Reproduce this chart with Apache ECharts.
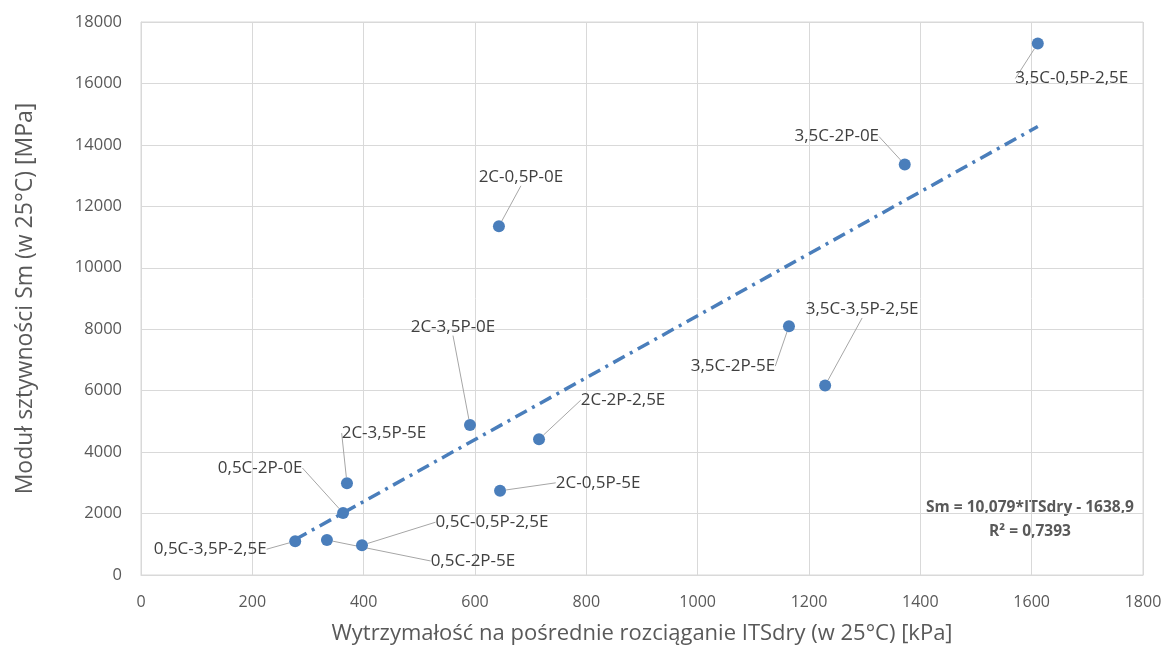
<!DOCTYPE html>
<html>
<head>
<meta charset="utf-8">
<script src="https://cdn.jsdelivr.net/npm/echarts@6/dist/echarts.min.js"></script>
<style>
  html, body { margin: 0; padding: 0; background: #fff; }
  #chart { width: 1167px; height: 650px; }
</style>
</head>
<body>
<div id="chart"></div>
<script>
// Mix designations (cement-polymer-emulsion contents)
const mixes = [
  '3,5C-0,5P-2,5E', '3,5C-2P-0E', '2C-0,5P-0E', '2C-3,5P-0E',
  '3,5C-3,5P-2,5E', '3,5C-2P-5E', '2C-2P-2,5E', '2C-0,5P-5E',
  '2C-3,5P-5E', '0,5C-2P-0E', '0,5C-3,5P-2,5E', '0,5C-2P-5E',
  '0,5C-0,5P-2,5E'
];
// Indirect tensile strength ITSdry [kPa]
const itsDry = [1611, 1372, 643, 591, 1229, 1164, 715, 645, 370, 363, 277, 334, 397];
// Stiffness modulus Sm [MPa]
const stiffness = [17300, 13360, 11350, 4880, 6170, 8100, 4420, 2740, 2990, 2020, 1100, 1140, 970];

// Linear regression from the chart
const slope = 10.079;
const intercept = -1638.9;
const rSquared = '0,7393';

const xTicks = { min: 0, max: 1800, interval: 200 };
const yTicks = { min: 0, max: 18000, interval: 2000 };

// Callout offsets from each point (px)
const labelOffsets = [
  [34, 35], [-68, -28], [22, -49], [-17, -98],
  [37, -76], [-56, 40], [84, -39], [98, -8],
  [37, -50], [-83, -45], [-85, 8], [146, 21],
  [130, -23]
];

const points = itsDry.map((x, i) => ({ value: [x, stiffness[i]], name: mixes[i] }));
const xLo = Math.min(...itsDry), xHi = Math.max(...itsDry);
const trend = [[xLo, slope * xLo + intercept], [xHi, slope * xHi + intercept]];

const blue = '#4a7ebb';
const gridColor = '#d9d9d9';
const textGray = '#595959';
const font = 'Open Sans, sans-serif';

const chart = echarts.init(document.getElementById('chart'));
chart.setOption({
  animation: false,
  grid: { left: 141, right: 24, top: 22, bottom: 73, show: true, borderColor: gridColor, borderWidth: 1 },
  xAxis: {
    type: 'value', min: xTicks.min, max: xTicks.max, interval: xTicks.interval,
    name: 'Wytrzymałość na pośrednie rozciąganie ITSdry (w 25°C) [kPa]',
    nameLocation: 'middle', nameGap: 48,
    nameTextStyle: { fontSize: 22, color: textGray, fontFamily: 'Liberation Sans Narrow, Open Sans, sans-serif' },
    axisLine: { show: true, lineStyle: { color: gridColor } },
    axisTick: { show: false },
    axisLabel: { fontSize: 16, color: textGray, margin: 19, fontFamily: font, formatter: v => String(v) },
    splitLine: { lineStyle: { color: gridColor, width: 1 } }
  },
  yAxis: {
    type: 'value', min: yTicks.min, max: yTicks.max, interval: yTicks.interval,
    name: 'Moduł sztywności Sm (w 25°C) [MPa]',
    nameLocation: 'middle', nameGap: 104,
    nameTextStyle: { fontSize: 23, color: textGray, fontFamily: font },
    axisLine: { show: true, lineStyle: { color: gridColor } },
    axisTick: { show: false },
    axisLabel: { fontSize: 16.5, color: textGray, margin: 19, fontFamily: font, formatter: v => String(v) },
    splitLine: { lineStyle: { color: gridColor, width: 1 } }
  },
  series: [
    {
      type: 'line',
      data: trend,
      symbol: 'none',
      z: 2,
      lineStyle: { color: blue, width: 3.5, type: [13, 6, 3, 6] },
      silent: true
    },
    {
      type: 'scatter',
      data: points,
      symbolSize: 12,
      z: 3,
      itemStyle: { color: blue, opacity: 1 },
      label: {
        show: true, position: 'inside',
        formatter: p => p.name,
        fontSize: 17, color: '#404040', fontFamily: font
      },
      labelLine: { show: true, lineStyle: { color: '#a6a6a6', width: 1 } },
      labelLayout: p => {
        const o = labelOffsets[p.dataIndex];
        return { dx: o[0], dy: o[1] };
      }
    }
  ],
  graphic: [
    {
      type: 'text', x: 1030, y: 508,
      style: {
        text: 'Sm = ' + String(slope).replace('.', ',') + '*ITSdry - ' + String(-intercept).replace('.', ','),
        align: 'center', verticalAlign: 'middle',
        fontSize: 15.5, fontWeight: 'bold', fill: textGray, fontFamily: font
      }
    },
    {
      type: 'text', x: 1030, y: 532,
      style: {
        text: 'R² = ' + rSquared,
        align: 'center', verticalAlign: 'middle',
        fontSize: 15.5, fontWeight: 'bold', fill: textGray, fontFamily: font
      }
    }
  ]
});
</script>
</body>
</html>
